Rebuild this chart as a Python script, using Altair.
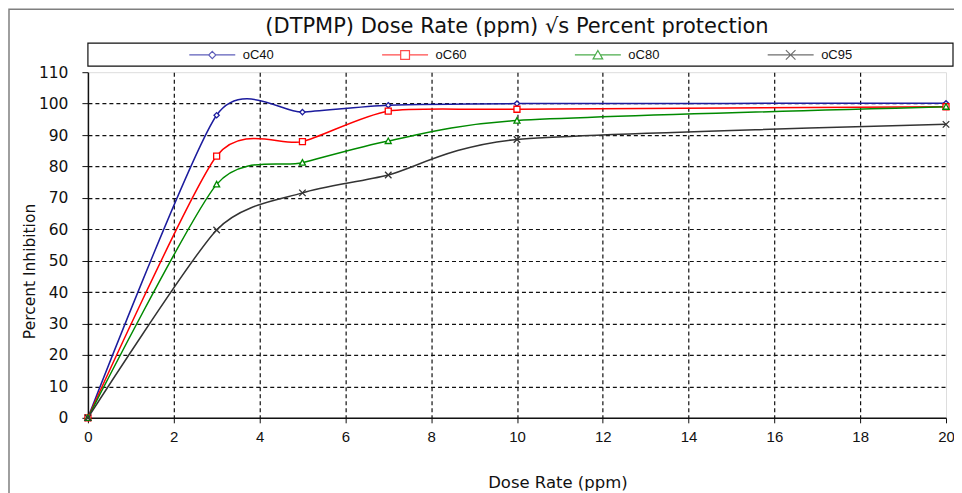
import altair as alt
import pandas as pd

# ---- data ----
dose = [0, 3, 5, 7, 10, 20]
series_names = ["oC40", "oC60", "oC80", "oC95"]
c40 = [0, 96.3, 97.3, 99.5, 100.0, 100.1]
c60 = [0, 83.3, 87.9, 97.6, 98.2, 99.0]
c80 = [0, 74.3, 81.2, 88.1, 94.6, 99.0]
c95 = [0, 59.8, 71.6, 77.3, 88.6, 93.4]
x_ticks = [0, 2, 4, 6, 8, 10, 12, 14, 16, 18, 20]
y_ticks = [0, 10, 20, 30, 40, 50, 60, 70, 80, 90, 100, 110]

title_text = "(DTPMP) Dose Rate (ppm) \u221as Percent protection"

# ---- styles ----
colors = ["#1c1c9e", "#ff0000", "#008a00", "#333333"]
marker_paths = [
    "M0,-1.05L1.05,0L0,1.05L-1.05,0Z",
    "M-1.2,-1.2H1.2V1.2H-1.2Z",
    "M0,-1.2L1.2,1H-1.2Z",
    "M-1.3,-1.3L1.3,1.3M1.3,-1.3L-1.3,1.3",
]
legend_paths = [
    "M-5.75,0H-0.9M0.9,0H5.75M0,-0.9L0.9,0L0,0.9L-0.9,0Z",
    "M-5.75,0H-1.1M1.1,0H5.75M-1.1,-1.1H1.1V1.1H-1.1Z",
    "M-5.75,0H-0.65M0.65,0H5.75M0,-1.1L1.2,1H-1.2Z",
    "M-5.75,0H5.75M-1.2,-1.2L1.2,1.2M1.2,-1.2L-1.2,1.2",
]

rows = []
for name, vals in zip(series_names, [c40, c60, c80, c95]):
    for d, v in zip(dose, vals):
        rows.append({"dose": d, "pct": v, "series": name})
df = pd.DataFrame(rows)

FONT = "Liberation Sans"
WIDE = "DejaVu Sans"

x_enc = alt.X(
    "dose:Q",
    scale=alt.Scale(domain=[0, 20], nice=False, zero=False),
    axis=alt.Axis(
        values=x_ticks,
        title="Dose Rate (ppm)",
        titleFont=WIDE,
        titleFontSize=16.5,
        titleFontWeight="normal",
        titleColor="#111111",
        titleX=470,
        titleY=57,
        labelFont=FONT,
        labelFontSize=15,
        labelColor="#111111",
        labelPadding=7,
        labelFlush=False,
        tickSize=5,
        tickColor="#111111",
        domainColor="#111111",
        domainWidth=1.5,
        grid=True,
        gridColor="#111111",
        gridDash=[4, 3],
        gridWidth=1.2,
        gridOpacity={"condition": {"test": "datum.value == 0 || datum.value == 20", "value": 0}, "value": 1},
    ),
)
y_enc = alt.Y(
    "pct:Q",
    scale=alt.Scale(domain=[0, 110], nice=False),
    axis=alt.Axis(
        values=y_ticks,
        title="Percent Inhibition",
        titleFont=WIDE,
        titleFontSize=15.5,
        titleFontWeight="normal",
        titleColor="#111111",
        titleX=-50,
        titleY=199,
        labelFont=WIDE,
        labelFontSize=15.5,
        labelColor="#111111",
        labelPadding=14,
        tickSize=6,
        tickColor="#111111",
        domainColor="#111111",
        domainWidth=1.5,
        grid=True,
        gridColor="#111111",
        gridDash=[4, 3],
        gridWidth=1.2,
        gridOpacity={"condition": {"test": "datum.value == 0 || datum.value == 110", "value": 0}, "value": 1},
    ),
)
color_plain = alt.Color("series:N", scale=alt.Scale(domain=series_names, range=colors), legend=None)

frame_df = pd.DataFrame({"k": [0]})
outer = alt.Chart(frame_df).mark_rect(fillOpacity=0, stroke="#7f7f7f", strokeWidth=1.5).encode(
    x=alt.value(-79), x2=alt.value(950), y=alt.value(-63), y2=alt.value(500)
)
legend_box = alt.Chart(frame_df).mark_rect(fill="white", stroke="#111111", strokeWidth=1.2).encode(
    x=alt.value(0), x2=alt.value(866), y=alt.value(-29), y2=alt.value(-6)
)

base = alt.Chart(df)
lines = base.mark_line(interpolate="cardinal", tension=0.3, strokeWidth=1.5).encode(
    x=x_enc, y=y_enc, color=color_plain
)
points = base.mark_point(filled=False, fill="white", fillOpacity=1, size=25, strokeWidth=1.3).encode(
    x=x_enc,
    y=y_enc,
    color=color_plain,
    shape=alt.Shape("series:N", scale=alt.Scale(domain=series_names, range=marker_paths), legend=None),
)
legend_layer = base.transform_filter("datum.dose > 1000").mark_point(filled=False, strokeWidth=1.2).encode(
    x=x_enc,
    y=y_enc,
    color=alt.Color("series:N", scale=alt.Scale(domain=series_names, range=colors), legend=alt.Legend(title=None)),
    shape=alt.Shape(
        "series:N",
        scale=alt.Scale(domain=series_names, range=legend_paths),
        legend=alt.Legend(
            title=None,
            orient="none",
            legendX=118,
            legendY=-24,
            direction="horizontal",
            columns=4,
            columnPadding=105,
            labelOffset=24,
            labelFont=FONT,
            labelFontSize=13,
            labelColor="#111111",
            symbolSize=64,
            symbolStrokeWidth=1.2,
            padding=0,
        ),
    ),
)

chart = (
    alt.layer(outer, legend_box, lines, points, legend_layer)
    .resolve_scale(shape="independent", color="independent")
    .properties(
        width=859,
        height=346,
        padding={"left": 80, "top": 64, "right": 8, "bottom": 76},
        autosize=alt.AutoSizeParams(type="none"),
        title=alt.TitleParams(
            title_text,
            font=WIDE,
            fontSize=21,
            fontWeight="normal",
            color="#111111",
            anchor="middle",
            frame="group",
            offset=-29,
        ),
    )
    .configure_view(stroke="#7f7f7f", strokeWidth=1.5)
    .configure(background="white")
)

chart.save("out.html", embed_options={"renderer": "svg", "actions": False})
